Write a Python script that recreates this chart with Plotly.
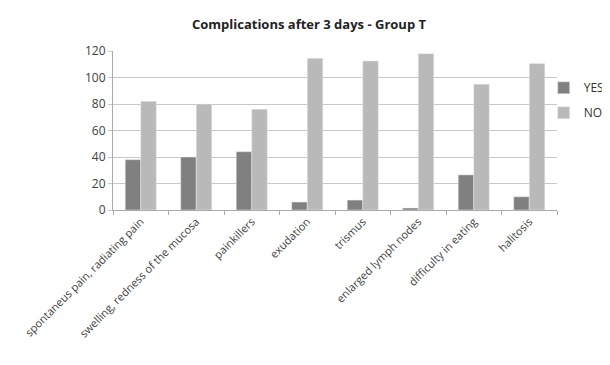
import plotly.graph_objects as go

categories = ["spontaneus pain, radiating pain", "swelling, redness of the mucosa",
              "painkillers", "exudation", "trismus", "enlarged lymph nodes",
              "difficulty in eating", "halitosis"]
yes_vals = [38, 40, 44, 6, 7.5, 1.5, 26.5, 10]
no_vals = [82, 80, 76, 114.5, 112.5, 118, 95, 110.5]

fig = go.Figure()
fig.add_trace(go.Bar(name="YES", x=categories, y=yes_vals, marker_color="#808080",
                     legendgroup="a"))
fig.add_trace(go.Bar(name="NO", x=categories, y=no_vals, marker_color="#b9b9b9",
                     legendgroup="b"))

fig.update_layout(
    width=602, height=357,
    margin=dict(l=105, r=53, t=43, b=155, autoexpand=False),
    paper_bgcolor="white", plot_bgcolor="white",
    font=dict(family="Open Sans, Liberation Sans, sans-serif", size=11, color="#404040"),
    title=dict(text="<b>Complications after 3 days - Group T</b>", x=0.5, xanchor="center",
               y=0.955, yanchor="middle", font=dict(size=13, color="#222")),
    barmode="group", bargap=0.44, bargroupgap=0,
    showlegend=True,
    legend=dict(x=0.97, xanchor="left", y=0.69, yanchor="middle",
                traceorder="grouped", tracegroupgap=6,
                font=dict(size=12, color="#333"), bgcolor="rgba(0,0,0,0)"),
    xaxis=dict(tickangle=-45, showline=True, linecolor="#aaa", ticks="outside",
               tickson="boundaries", ticklen=4, tickcolor="#aaa", showgrid=False,
               tickfont=dict(size=11), automargin=False),
    yaxis=dict(range=[0, 120], dtick=20, showgrid=True, gridcolor="#c8c8c8",
               showline=True, linecolor="#aaa", ticks="outside", ticklen=4,
               tickcolor="#c8c8c8", zeroline=False, tickfont=dict(size=12),
               automargin=False),
)

fig.write_html("out.html")
